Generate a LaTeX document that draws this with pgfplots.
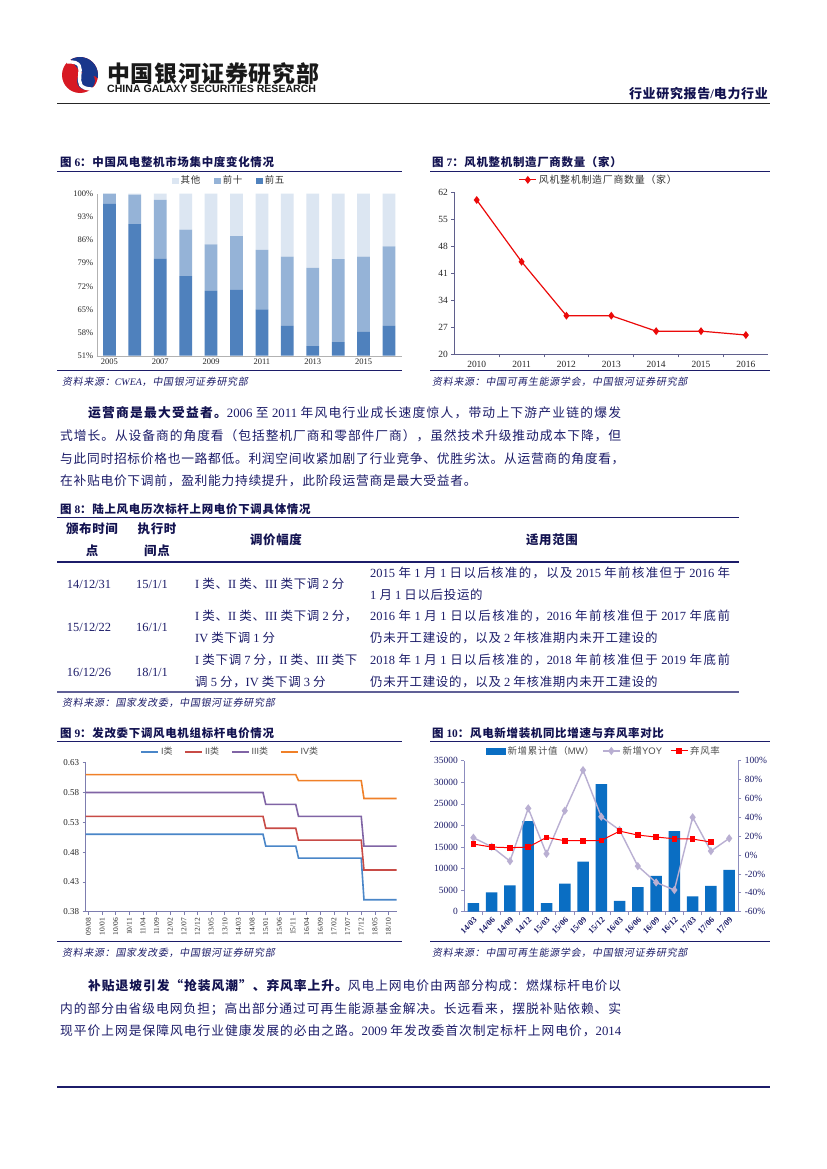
\documentclass[border=0pt]{standalone}
\usepackage{fontspec}
\setmainfont{Liberation Serif}
\setsansfont{Liberation Sans}
\newfontfamily\cjkR{Noto Sans CJK SC}
\newfontfamily\cjkI[FakeSlant=0.18]{Noto Sans CJK SC}
\usepackage{pgfplots}
\pgfplotsset{compat=1.18}

% ---- automatic CJK font switching ----
\XeTeXinterchartokenstate=1
\chardef\cjkcls=10
\newcount\cjkcnt
\def\cjkrange#1#2{\cjkcnt=#1\relax\loop\XeTeXcharclass\cjkcnt=\cjkcls\advance\cjkcnt by 1\relax\ifnum\cjkcnt<#2\relax\repeat}
\cjkrange{"4E00}{"A000}
\cjkrange{"3000}{"3040}
\cjkrange{"FF00}{"FFF0}
\XeTeXcharclass"201C=\cjkcls
\XeTeXcharclass"201D=\cjkcls
\def\cjkcur{\cjkR}
\def\cjkglue{\hskip 0.7bp plus 3bp\relax}
\XeTeXinterchartoks 0 \cjkcls = {\begingroup\cjkcur}
\XeTeXinterchartoks 4095 \cjkcls = {\begingroup\cjkcur}
\XeTeXinterchartoks \cjkcls 0 = {\endgroup}
\XeTeXinterchartoks \cjkcls 4095 = {\endgroup}
\XeTeXinterchartoks \cjkcls \cjkcls = {\cjkglue}

\newcommand\jl[2]{\hbox to #1bp{#2}}
\newcommand\fs[1]{\fontsize{#1}{#1}\selectfont}

\definecolor{navy}{RGB}{28,28,105}
\definecolor{navyd}{RGB}{18,18,80}
\definecolor{c6a}{RGB}{79,129,189}
\definecolor{c6b}{RGB}{149,179,215}
\definecolor{c6c}{RGB}{220,230,242}
\definecolor{ax7}{RGB}{95,95,140}
\definecolor{red7}{RGB}{235,10,10}
\definecolor{c9a}{RGB}{74,134,200}
\definecolor{c9b}{RGB}{200,75,70}
\definecolor{c9c}{RGB}{128,100,165}
\definecolor{c9d}{RGB}{240,128,40}
\definecolor{ax9}{RGB}{125,125,175}
\definecolor{bar10}{RGB}{10,110,195}
\definecolor{yoy10}{RGB}{185,175,210}
\definecolor{ax10}{RGB}{140,140,190}
\definecolor{logored}{RGB}{215,25,35}
\definecolor{logoblue}{RGB}{25,55,140}

\tikzset{t/.style={anchor=base west, inner sep=0pt, text=navy},
         tc/.style={anchor=base, inner sep=0pt, text=navy}}

\begin{document}
\begin{tikzpicture}
\path[use as bounding box] (0bp,0bp) rectangle (827bp,-1169bp);
\fill[white] (0bp,0bp) rectangle (827bp,-1169bp);
\begin{scope}[x=1bp,y=-1bp]
% ---------- header ----------
\fill[logored] (80,75) circle (18);
\fill[logoblue] (80,75) ++(10:18) arc (10:-120:18) .. controls (85,82) and (92,72) .. (97.7,78.1) -- cycle;
\fill[logoblue] (86,81) circle (9);
\draw[white, line width=3.4bp] (67,62) .. controls (96,60) and (63,90) .. (94,89);
\node[anchor=base west, inner sep=0pt, text=black!90] at (107,82) {\fs{23}\bfseries 中国银河证券研究部};
\node[anchor=base west, inner sep=0pt, text=black!90] at (107,92.5) {\sffamily\bfseries\fs{10.6}CHINA GALAXY SECURITIES RESEARCH};
\node[anchor=base east, inner sep=0pt, text=navyd] at (768,98) {\fs{13}\bfseries 行业研究报告/电力行业};
\draw[black!85, line width=1.8bp] (57,103.5) -- (770,103.5);

% ---------- figure titles & rules ----------
\node[t, text=navyd] at (60,166.5) {\fs{11.5}\bfseries 图 6：中国风电整机市场集中度变化情况};
\draw[navy, line width=0.8bp] (57,171) -- (402,171);
\node[t, text=navyd] at (432,166.5) {\fs{11.5}\bfseries 图 7：风机整机制造厂商数量（家）};
\draw[navy, line width=0.8bp] (430,171) -- (770,171);
\draw[navy, line width=0.8bp] (57,370) -- (402,370);
\draw[navy, line width=0.8bp] (430,370) -- (770,370);
\node[t] at (62,385) {\fs{10}\itshape\def\cjkcur{\cjkI}资料来源：CWEA，中国银河证券研究部};
\node[t] at (432,385) {\fs{10}\itshape\def\cjkcur{\cjkI}资料来源：中国可再生能源学会，中国银河证券研究部};

% ---------- paragraph 1 ----------
\node[t] at (88,417) {\fs{12.8}\jl{533}{{\bfseries\color{navyd}运营商是最大受益者。}2006 至 2011 年风电行业成长速度惊人，带动上下游产业链的爆发}};
\node[t] at (60,440) {\fs{12.8}\jl{561}{式增长。从设备商的角度看（包括整机厂商和零部件厂商），虽然技术升级推动成本下降，但}};
\node[t] at (60,463) {\fs{12.8}\jl{561}{与此同时招标价格也一路都低。利润空间收紧加剧了行业竞争、优胜劣汰。从运营商的角度看，}};
\node[t] at (60,485.5) {\fs{12.8}在补贴电价下调前，盈利能力持续提升，此阶段运营商是最大受益者。};

% ---------- table (fig 8) ----------
\node[t, text=navyd] at (60,513) {\fs{11.5}\bfseries 图 8：陆上风电历次标杆上网电价下调具体情况};
\draw[navy, line width=0.9bp] (57,517.5) -- (739,517.5);
\draw[navy, line width=1.2bp] (57,562) -- (739,562);
\draw[navy!70, line width=1.4bp] (57,692) -- (739,692);
\node[tc, text=navyd] at (92,533.5) {\fs{12.5}\bfseries 颁布时间};
\node[tc, text=navyd] at (92,555.5) {\fs{12.5}\bfseries 点};
\node[tc, text=navyd] at (157,533.5) {\fs{12.5}\bfseries 执行时};
\node[tc, text=navyd] at (157,555.5) {\fs{12.5}\bfseries 间点};
\node[tc, text=navyd] at (276,544.5) {\fs{12.5}\bfseries 调价幅度};
\node[tc, text=navyd] at (552,544.5) {\fs{12.5}\bfseries 适用范围};
% row 1
\node[tc] at (89,588.5) {\fs{12.5}14/12/31};
\node[tc] at (152,588.5) {\fs{12.5}15/1/1};
\node[t] at (195,588.5) {\fs{12.5}I 类、II 类、III 类下调 2 分};
\node[t] at (370,577) {\fs{12.5}\jl{360}{2015 年 1 月 1 日以后核准的，以及 2015 年前核准但于 2016 年}};
\node[t] at (370,599) {\fs{12.5}1 月 1 日以后投运的};
% row 2
\node[tc] at (89,631.5) {\fs{12.5}15/12/22};
\node[tc] at (152,631.5) {\fs{12.5}16/1/1};
\node[t] at (195,620.5) {\fs{12.5}I 类、II 类、III 类下调 2 分，};
\node[t] at (195,642) {\fs{12.5}IV 类下调 1 分};
\node[t] at (370,620.5) {\fs{12.5}\jl{360}{2016 年 1 月 1 日以后核准的，2016 年前核准但于 2017 年底前}};
\node[t] at (370,642) {\fs{12.5}仍未开工建设的，以及 2 年核准期内未开工建设的};
% row 3
\node[tc] at (89,676) {\fs{12.5}16/12/26};
\node[tc] at (152,676) {\fs{12.5}18/1/1};
\node[t] at (195,664.5) {\fs{12.5}I 类下调 7 分，II 类、III 类下};
\node[t] at (195,686) {\fs{12.5}调 5 分，IV 类下调 3 分};
\node[t] at (370,664.5) {\fs{12.5}\jl{360}{2018 年 1 月 1 日以后核准的，2018 年前核准但于 2019 年底前}};
\node[t] at (370,686) {\fs{12.5}仍未开工建设的，以及 2 年核准期内未开工建设的};
\node[t] at (62,706) {\fs{10}\itshape\def\cjkcur{\cjkI}资料来源：国家发改委，中国银河证券研究部};

% ---------- fig 9/10 titles ----------
\node[t, text=navyd] at (60,737) {\fs{11.5}\bfseries 图 9：发改委下调风电机组标杆电价情况};
\draw[navy, line width=0.8bp] (57,741.5) -- (402,741.5);
\node[t, text=navyd] at (432,737) {\fs{11.5}\bfseries 图 10：风电新增装机同比增速与弃风率对比};
\draw[navy, line width=0.8bp] (430,741.5) -- (770,741.5);
\draw[navy, line width=0.8bp] (57,941.5) -- (402,941.5);
\draw[navy, line width=0.8bp] (430,941.5) -- (770,941.5);
\node[t] at (62,956) {\fs{10}\itshape\def\cjkcur{\cjkI}资料来源：国家发改委，中国银河证券研究部};
\node[t] at (432,956) {\fs{10}\itshape\def\cjkcur{\cjkI}资料来源：中国可再生能源学会，中国银河证券研究部};

% ---------- paragraph 2 ----------
\node[t] at (88,990) {\fs{12.8}\jl{533}{{\bfseries\color{navyd}补贴退坡引发“抢装风潮”、弃风率上升。}风电上网电价由两部分构成：燃煤标杆电价以}};
\node[t] at (60,1013) {\fs{12.8}\jl{561}{内的部分由省级电网负担；高出部分通过可再生能源基金解决。长远看来，摆脱补贴依赖、实}};
\node[t] at (60,1035.5) {\fs{12.8}\jl{561}{现平价上网是保障风电行业健康发展的必由之路。2009 年发改委首次制定标杆上网电价，2014}};
\draw[navy, line width=1.5bp] (57,1087) -- (770,1087);
\end{scope}

% ================= Chart 6 =================
\begin{axis}[at={(96.7bp,-193.7bp)}, anchor=north west, scale only axis,
  width=305bp, height=162bp, ybar stacked, bar width=12.7bp,
  xmin=2004.5, xmax=2016.5, ymin=51, ymax=100,
  xtick={2005,2007,2009,2011,2013,2015}, ytick={51,58,65,72,79,86,93,100},
  yticklabel={\pgfmathprintnumber{\tick}\%},
  /pgf/number format/assume math mode=true, /pgf/number format/1000 sep={},
  axis x line*=bottom, axis y line*=left, axis line style={draw=black!30},
  major tick length=0pt,
  tick label style={font=\fs{8.5}, text=black!85},
  legend style={at={(0.435,1.025)}, anchor=south, draw=none, fill=none, legend columns=3,
    font=\fs{9.5}, text=black!80, /tikz/every even column/.append style={column sep=12bp}},
  legend image code/.code={\path[#1,draw=none] (0bp,-3.2bp) rectangle (6.4bp,3.2bp);},
  reverse legend]
\addplot[fill=c6a, draw=none] coordinates {(2005,96.9)(2006,90.8)(2007,80.3)(2008,75.1)(2009,70.6)(2010,70.9)(2011,65.0)(2012,60.0)(2013,53.9)(2014,55.1)(2015,58.2)(2016,60.0)};
\addlegendentry{前五}
\addplot[fill=c6b, draw=none] coordinates {(2005,3.1)(2006,8.9)(2007,17.8)(2008,14.0)(2009,14.1)(2010,16.3)(2011,18.0)(2012,21.0)(2013,23.7)(2014,25.1)(2015,22.8)(2016,24.1)};
\addlegendentry{前十}
\addplot[fill=c6c, draw=none] coordinates {(2005,0)(2006,0.3)(2007,1.9)(2008,10.9)(2009,15.3)(2010,12.8)(2011,17.0)(2012,19.0)(2013,22.4)(2014,19.8)(2015,19.0)(2016,15.9)};
\addlegendentry{其他}
\end{axis}

% ================= Chart 7 =================
\begin{axis}[at={(454.3bp,-192.3bp)}, anchor=north west, scale only axis,
  width=314bp, height=162bp,
  xmin=2009.5, xmax=2016.5, ymin=20, ymax=62,
  xtick={2010,...,2016}, ytick={20,27,34,41,48,55,62},
  minor xtick={2010.5,2011.5,2012.5,2013.5,2014.5,2015.5},
  /pgf/number format/assume math mode=true, /pgf/number format/1000 sep={},
  axis x line*=bottom, axis y line*=left, axis line style={draw=ax7, line width=0.8bp},
  tick align=outside, major tick length=3bp, minor tick length=3bp,
  tick style={draw=ax7, line width=0.8bp}, major x tick style={draw=none},
  tick label style={font=\fs{9.5}, text=black!85},
  legend style={at={(0.46,1.02)}, anchor=south, draw=none, fill=none, font=\fs{10}, text=black!80}]
\addplot[red7, line width=1.2bp, mark=diamond*, mark size=3bp, mark options={fill=red7}]
  coordinates {(2010,60)(2011,44)(2012,30)(2013,30)(2014,26)(2015,26)(2016,25)};
\addlegendentry{风机整机制造厂商数量（家）}
\end{axis}

% ================= Chart 9 =================
\begin{axis}[at={(85.7bp,-762.7bp)}, anchor=north west, scale only axis,
  width=311bp, height=149bp,
  xmin=-1, xmax=113, ymin=0.38, ymax=0.63,
  ytick={0.38,0.43,0.48,0.53,0.58,0.63},
  yticklabel style={/pgf/number format/.cd, fixed, fixed zerofill, precision=2},
  xtick={0,5,...,110},
  xticklabels={09/08,10/01,10/06,10/11,11/04,11/09,12/02,12/07,12/12,13/05,13/10,14/03,14/08,15/01,15/06,15/11,16/04,16/09,17/02,17/07,17/12,18/05,18/10},
  /pgf/number format/assume math mode=true,
  axis x line*=bottom, axis y line*=left, axis line style={draw=ax9, line width=0.8bp},
  tick align=outside, major tick length=3bp, tick style={draw=ax9, line width=0.7bp},
  tick label style={font=\fs{9}, text=black!85},
  x tick label style={rotate=90, anchor=east, font=\fs{7.5}},
  legend style={at={(0.465,1.015)}, anchor=south, draw=none, fill=none, legend columns=4,
    font=\sffamily\fs{9}, text=black!70, /tikz/every even column/.append style={column sep=10bp}}]
\addplot[c9a, line width=1.6bp] coordinates {(-1,0.51)(64,0.51)(65,0.49)(76,0.49)(77,0.47)(100,0.47)(101,0.40)(113,0.40)};
\addlegendentry{I类}
\addplot[c9b, line width=1.6bp] coordinates {(-1,0.54)(64,0.54)(65,0.52)(76,0.52)(77,0.50)(100,0.50)(101,0.45)(113,0.45)};
\addlegendentry{II类}
\addplot[c9c, line width=1.6bp] coordinates {(-1,0.58)(64,0.58)(65,0.56)(76,0.56)(77,0.54)(100,0.54)(101,0.49)(113,0.49)};
\addlegendentry{III类}
\addplot[c9d, line width=1.6bp] coordinates {(-1,0.61)(76,0.61)(77,0.60)(100,0.60)(101,0.57)(113,0.57)};
\addlegendentry{IV类}
\end{axis}

% ================= Chart 10 =================
\begin{axis}[at={(464.3bp,-760.7bp)}, anchor=north west, scale only axis,
  width=274bp, height=151bp, ybar, bar width=11.5bp,
  xmin=-0.5, xmax=14.5, ymin=0, ymax=35000,
  ytick={0,5000,10000,15000,20000,25000,30000,35000}, scaled y ticks=false,
  xtick={0,...,14},
  xticklabels={14/03,14/06,14/09,14/12,15/03,15/06,15/09,15/12,16/03,16/06,16/09,16/12,17/03,17/06,17/09},
  minor xtick={0.5,1.5,...,13.5},
  /pgf/number format/assume math mode=true, /pgf/number format/1000 sep={},
  axis x line*=bottom, axis y line*=left, axis line style={draw=ax10, line width=0.8bp},
  tick align=outside, major tick length=3bp, minor tick length=3bp,
  tick style={draw=ax10, line width=0.7bp}, major x tick style={draw=none},
  tick label style={font=\fs{9.5}, text=navy},
  x tick label style={rotate=45, anchor=north east, font=\bfseries\fs{8.5}, inner sep=1bp}]
\addplot[fill=bar10, draw=none] coordinates {(0,2000)(1,4500)(2,6100)(3,21000)(4,2000)(5,6500)(6,11600)(7,29600)(8,2500)(9,5700)(10,8300)(11,18700)(12,3550)(13,6000)(14,9700)};
\end{axis}
\begin{axis}[at={(464.3bp,-760.7bp)}, anchor=north west, scale only axis,
  width=274bp, height=151bp,
  xmin=-0.5, xmax=14.5, ymin=-60, ymax=100,
  ytick={-60,-40,-20,0,20,40,60,80,100},
  yticklabel={\pgfmathprintnumber{\tick}\%},
  /pgf/number format/assume math mode=true,
  axis x line=none, axis y line*=right, axis line style={draw=ax10, line width=0.8bp},
  tick align=outside, major tick length=3bp, tick style={draw=ax10, line width=0.7bp},
  tick label style={font=\fs{9.5}, text=navy},
  legend style={at={(0.51,1.005)}, anchor=south, draw=none, fill=none, legend columns=3,
    font=\sffamily\fs{9.5}, text=black!70, /tikz/every even column/.append style={column sep=6bp}}]
\addlegendimage{legend image code/.code={\fill[bar10] (0bp,-3bp) rectangle (19bp,3bp);}}
\addlegendentry{新增累计值（MW）}
\addplot[yoy10, line width=1.4bp, mark=diamond*, mark size=3bp, mark options={fill=yoy10}]
  coordinates {(0,18.4)(1,8.8)(2,-6.4)(3,49.5)(4,1.4)(5,47)(6,90)(7,40.6)(8,26.5)(9,-11.7)(10,-29)(11,-37)(12,40)(13,4.2)(14,17.7)};
\addlegendentry{新增YOY}
\addplot[red, line width=1bp, mark=square*, mark size=2.3bp, mark options={fill=red}]
  coordinates {(0,11.7)(1,8.5)(2,7.8)(3,8.5)(4,18.7)(5,15.2)(6,15.2)(7,15.5)(8,25.4)(9,21.2)(10,19.1)(11,17.3)(12,17)(13,13.8)};
\addlegendentry{弃风率}
\end{axis}
\end{tikzpicture}
\end{document}
